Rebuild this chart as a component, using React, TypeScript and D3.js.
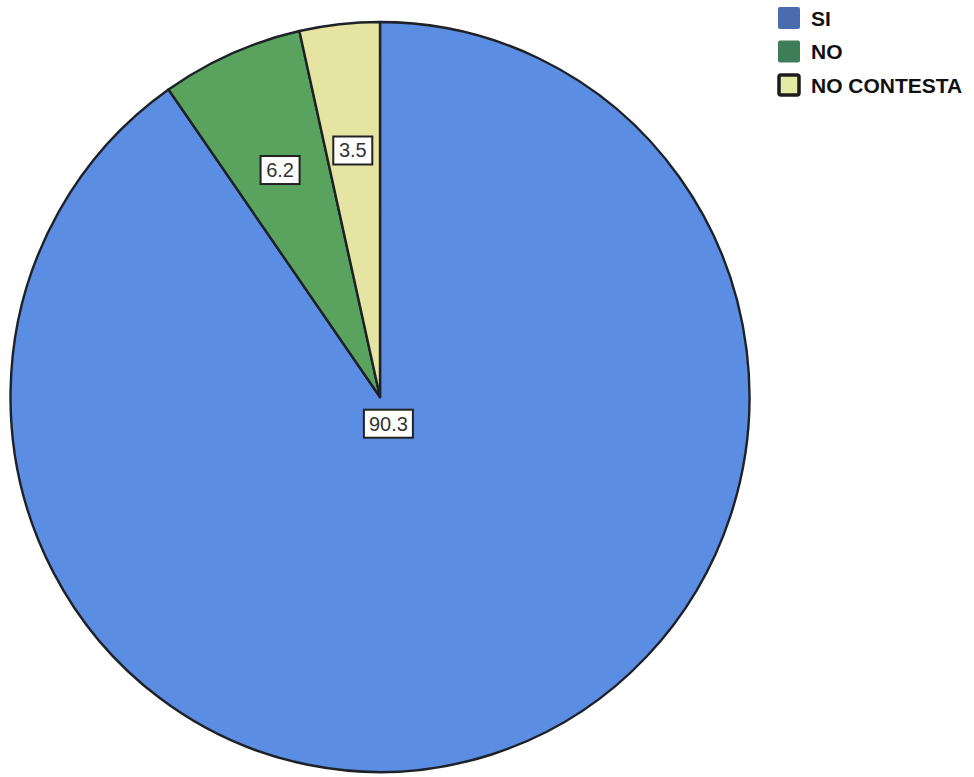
import React from "react";
import * as d3 from "d3";

// Survey answers (percent)
const categories = ["SI", "NO", "NO CONTESTA"];
const values = [90.3, 6.2, 3.5];
const sliceColors = ["#5b8de2", "#5aa35e", "#e6e4a2"];
const legendColors = ["#4a6cae", "#3f7c58", "#e3eaa4"];

const W = 974;
const H = 777;
const cx = 380;
const cy = 397;
const rx = 369.5;
const ry = 375;

export default function App() {
  const pie = d3
    .pie<number>()
    .sort(null)
    .value((d) => d);
  const arcs = pie(values);
  const arc = d3.arc<d3.PieArcDatum<number>>().innerRadius(0).outerRadius(rx);

  const fmt = d3.format(".1f");

  // label positions: small slices get labels inside near the rim, the large one near the center
  const labelPos = (a: d3.PieArcDatum<number>) => {
    const mid = (a.startAngle + a.endAngle) / 2;
    const r = a.endAngle - a.startAngle > Math.PI ? 28 : 248;
    return [cx + r * Math.sin(mid), cy - r * Math.cos(mid)];
  };

  const legendY = d3
    .scalePoint<string>()
    .domain(categories)
    .range([18, 85]);

  return (
    <svg
      width={W}
      height={H}
      style={{ position: "absolute", left: 0, top: 0, background: "#fff" }}
      fontFamily="'Liberation Sans', Arial, sans-serif"
    >
      <g transform={`translate(${cx},${cy}) scale(1,${ry / rx})`}>
        {arcs.map((a, i) => (
          <path
            key={categories[i]}
            d={arc(a) ?? ""}
            fill={sliceColors[i]}
            stroke="#1e2228"
            strokeWidth={2.4}
            strokeLinejoin="round"
          />
        ))}
      </g>
      {arcs.map((a, i) => {
        const [x, y] = labelPos(a);
        const text = fmt(values[i]);
        const w = text.length * 10 + 9;
        return (
          <g key={"lbl" + i} transform={`translate(${x},${y})`}>
            <rect
              x={-w / 2}
              y={-14}
              width={w}
              height={28}
              fill="#fff"
              stroke="#222"
              strokeWidth={2}
            />
            <text
              x={0}
              y={7}
              textAnchor="middle"
              fontSize={20}
              fill="#333"
            >
              {text}
            </text>
          </g>
        );
      })}
      {categories.map((c, i) => {
        const y = legendY(c) ?? 0;
        const isLast = i === categories.length - 1;
        return (
          <g key={"leg" + c}>
            <rect
              x={isLast ? 779 : 778}
              y={y - (isLast ? 10 : 11)}
              width={isLast ? 20 : 22}
              height={isLast ? 20 : 22}
              rx={2}
              fill={legendColors[i]}
              stroke={isLast ? "#1c1c1c" : "none"}
              strokeWidth={isLast ? 3.5 : 0}
            />
            <text
              x={811}
              y={y + 7.5}
              fontSize={21}
              fontWeight="bold"
              fill="#111"
            >
              {c}
            </text>
          </g>
        );
      })}
    </svg>
  );
}
